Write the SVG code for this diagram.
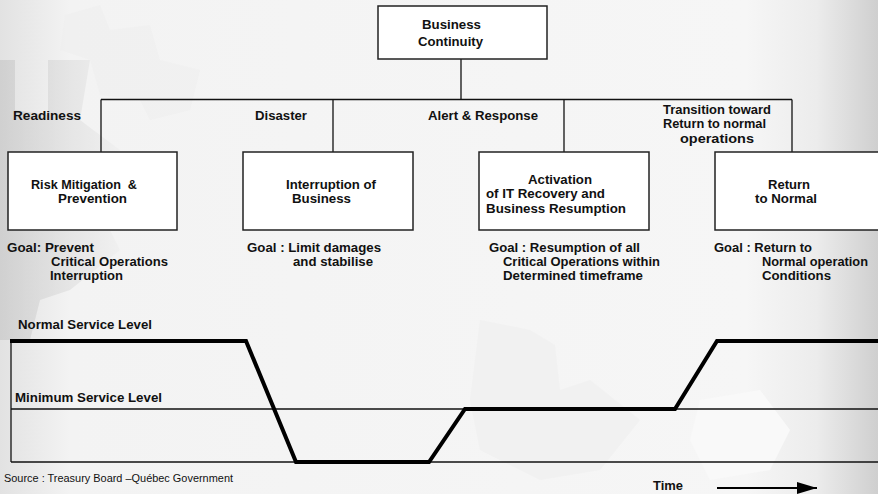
<svg xmlns="http://www.w3.org/2000/svg" width="878" height="494" viewBox="0 0 878 494">
<defs>
<linearGradient id="bg" x1="0" y1="0" x2="1" y2="0">
<stop offset="0" stop-color="#e2e2e2"/>
<stop offset="0.08" stop-color="#f3f3f3"/>
<stop offset="0.85" stop-color="#f6f6f6"/>
<stop offset="0.93" stop-color="#ececec"/>
<stop offset="1" stop-color="#cfcfcf"/>
</linearGradient>
<linearGradient id="gearL" x1="0" y1="0" x2="1" y2="0">
<stop offset="0" stop-color="#c4c4c4"/>
<stop offset="1" stop-color="#eeeeee"/>
</linearGradient>
<marker id="arr" viewBox="0 0 20 12" refX="20" refY="6" markerWidth="20" markerHeight="12" markerUnits="userSpaceOnUse" orient="auto">
<path d="M0,0 L20,6 L0,12 Z" fill="#000"/>
</marker>
<style>
.t{font-family:"Liberation Sans",Arial,sans-serif;font-size:12.5px;font-weight:bold;fill:#111}
.s{font-family:"Liberation Sans",Arial,sans-serif;font-size:11px;fill:#111}
.box{fill:#fff;stroke:#222;stroke-width:1.5}
.ln{stroke:#111;stroke-width:1.3;fill:none}
.thick{stroke:#000;stroke-width:4;fill:none;stroke-linejoin:miter}
.gear{fill:#eeeeee}
</style>
</defs>
<rect x="0" y="0" width="878" height="494" fill="url(#bg)"/>
<!-- faint background gears -->
<path class="gear" d="M65,15 L100,5 L110,30 L150,25 L160,60 L200,70 L190,110 L150,120 L140,100 L100,95 L90,60 L60,50 Z" opacity="0.6"/>
<path d="M0,60 L15,60 L15,110 L48,115 L48,60 L90,60 L80,120 L120,150 L95,200 L120,250 L70,290 L40,300 L30,340 L0,340 Z" fill="url(#gearL)" opacity="0.6"/>
<path class="gear" d="M480,320 L530,330 L555,345 L560,390 L590,380 L640,420 L600,470 L540,480 L480,450 L470,400 Z" opacity="0.6"/>
<path d="M700,400 L760,390 L790,430 L770,470 L710,480 L690,440 Z" fill="#f9f9f9"/>

<g id="connectors">
<line class="ln" x1="461" y1="59" x2="461" y2="99.5"/>
<line class="ln" x1="101" y1="99.5" x2="792" y2="99.5"/>
<line class="ln" x1="101" y1="99.5" x2="101" y2="152"/>
<line class="ln" x1="333" y1="99.5" x2="333" y2="152"/>
<line class="ln" x1="564" y1="99.5" x2="564" y2="152"/>
<line class="ln" x1="792" y1="99.5" x2="792" y2="152"/>
</g>

<g id="phase-labels">
<text class="t" x="13" y="120" textLength="68" lengthAdjust="spacingAndGlyphs">Readiness</text>
<text class="t" x="255" y="120" textLength="52" lengthAdjust="spacingAndGlyphs">Disaster</text>
<text class="t" x="428" y="120" textLength="110" lengthAdjust="spacingAndGlyphs">Alert &amp; Response</text>
<text class="t" x="663" y="114" textLength="108" lengthAdjust="spacingAndGlyphs">Transition toward</text>
<text class="t" x="663" y="128" textLength="103" lengthAdjust="spacingAndGlyphs">Return to normal</text>
<text class="t" x="680" y="143" textLength="74" lengthAdjust="spacingAndGlyphs">operations</text>
</g>

<g id="business-continuity">
<rect class="box" x="378" y="6" width="169" height="53"/>
<text class="t" x="422" y="29" textLength="59" lengthAdjust="spacingAndGlyphs">Business</text>
<text class="t" x="418" y="46" textLength="65" lengthAdjust="spacingAndGlyphs">Continuity</text>
</g>

<g id="risk-mitigation">
<rect class="box" x="8" y="152" width="169" height="78"/>
<text class="t" x="31" y="189" textLength="106" lengthAdjust="spacingAndGlyphs" xml:space="preserve">Risk Mitigation  &amp;</text>
<text class="t" x="58" y="203" textLength="69" lengthAdjust="spacingAndGlyphs">Prevention</text>
<text class="t" x="7" y="252" textLength="87" lengthAdjust="spacingAndGlyphs">Goal: Prevent</text>
<text class="t" x="51" y="266" textLength="117" lengthAdjust="spacingAndGlyphs">Critical Operations</text>
<text class="t" x="50" y="280" textLength="73" lengthAdjust="spacingAndGlyphs">Interruption</text>
</g>

<g id="interruption">
<rect class="box" x="243" y="152" width="170" height="78"/>
<text class="t" x="286" y="189" textLength="90" lengthAdjust="spacingAndGlyphs">Interruption of</text>
<text class="t" x="292" y="203" textLength="59" lengthAdjust="spacingAndGlyphs">Business</text>
<text class="t" x="247" y="252" textLength="134" lengthAdjust="spacingAndGlyphs">Goal : Limit damages</text>
<text class="t" x="293" y="266" textLength="80" lengthAdjust="spacingAndGlyphs">and stabilise</text>
</g>

<g id="activation">
<rect class="box" x="479" y="152" width="170" height="78"/>
<text class="t" x="528" y="184" textLength="64" lengthAdjust="spacingAndGlyphs">Activation</text>
<text class="t" x="486" y="198" textLength="119" lengthAdjust="spacingAndGlyphs">of IT Recovery and</text>
<text class="t" x="486" y="213" textLength="140" lengthAdjust="spacingAndGlyphs">Business Resumption</text>
<text class="t" x="489" y="252" textLength="151" lengthAdjust="spacingAndGlyphs">Goal : Resumption of all</text>
<text class="t" x="503" y="266" textLength="157" lengthAdjust="spacingAndGlyphs">Critical Operations within</text>
<text class="t" x="503" y="280" textLength="140" lengthAdjust="spacingAndGlyphs">Determined timeframe</text>
</g>

<g id="return-to-normal">
<rect class="box" x="715" y="152" width="175" height="78"/>
<text class="t" x="768" y="189" textLength="42" lengthAdjust="spacingAndGlyphs">Return</text>
<text class="t" x="755" y="203" textLength="62" lengthAdjust="spacingAndGlyphs">to Normal</text>
<text class="t" x="714" y="252" textLength="98" lengthAdjust="spacingAndGlyphs">Goal : Return to</text>
<text class="t" x="762" y="266" textLength="106" lengthAdjust="spacingAndGlyphs">Normal operation</text>
<text class="t" x="762" y="280" textLength="69" lengthAdjust="spacingAndGlyphs">Conditions</text>
</g>

<g id="service-chart">
<line class="ln" x1="11" y1="341" x2="11" y2="462"/>
<line class="ln" x1="11" y1="409" x2="878" y2="409"/>
<line class="ln" x1="11" y1="462" x2="878" y2="462"/>
<path class="thick" d="M10,341 L246,341 L296,462 L429,462 L465,409 L675,409 L717,341 L878,341"/>
<text class="t" x="18" y="329" textLength="134" lengthAdjust="spacingAndGlyphs">Normal Service Level</text>
<text class="t" x="15" y="402" textLength="147" lengthAdjust="spacingAndGlyphs">Minimum Service Level</text>
</g>

<g id="footer">
<text class="s" x="4" y="482" textLength="229" lengthAdjust="spacingAndGlyphs">Source : Treasury Board –Québec Government</text>
<text class="t" x="653" y="490" textLength="30" lengthAdjust="spacingAndGlyphs">Time</text>
<line x1="717" y1="488" x2="817" y2="488" stroke="#000" stroke-width="2" marker-end="url(#arr)"/>
</g>
</svg>
